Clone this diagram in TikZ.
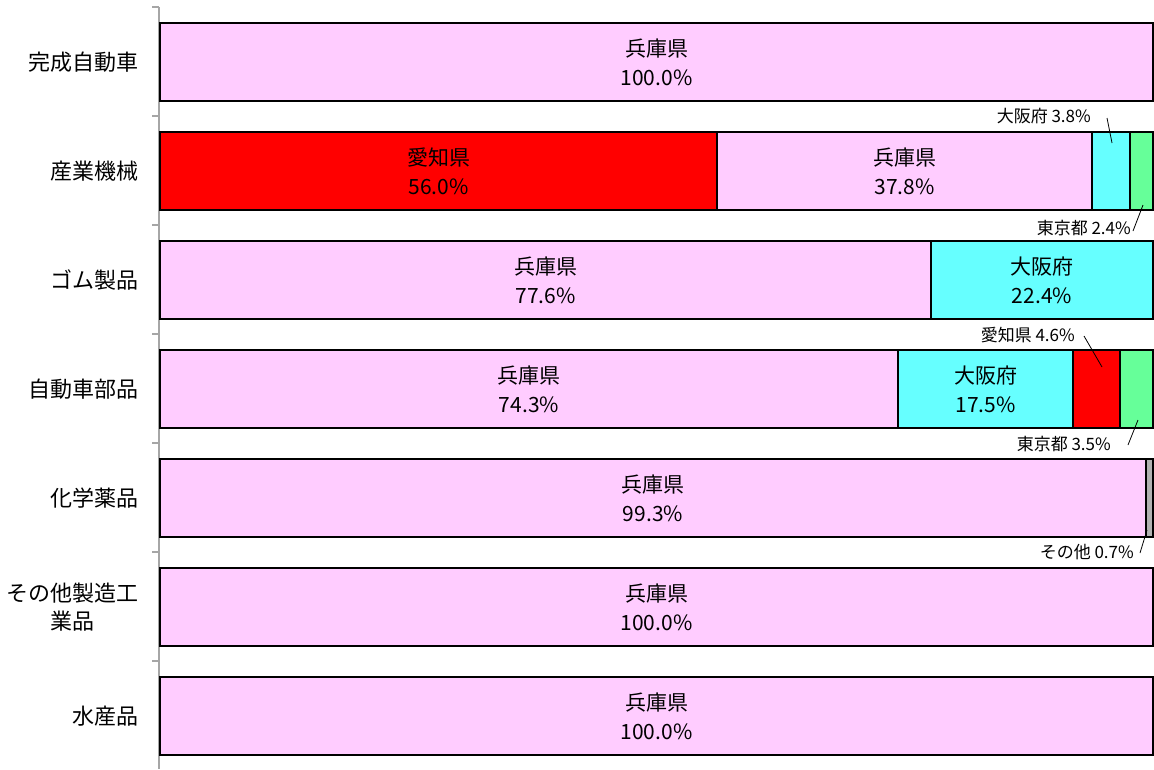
\documentclass[tikz,border=0pt]{standalone}
\usepackage{fontspec}
\setmainfont{Noto Sans CJK JP}
\definecolor{hyogo}{HTML}{FFCCFF}
\definecolor{aichi}{HTML}{FF0000}
\definecolor{osaka}{HTML}{66FFFF}
\definecolor{tokyo}{HTML}{66FF99}
\definecolor{other}{HTML}{B2B2B2}
\definecolor{axisgray}{HTML}{A6A6A6}
\begin{document}
\begin{tikzpicture}[x=1pt,y=-1pt,
  seg/.style={draw=black, line width=1.1pt, minimum height=78pt, inner sep=0pt, outer sep=0pt,
    anchor=north west, align=center, font=\fontsize{21}{29}\selectfont},
  cat/.style={anchor=east, align=center, inner sep=0pt, font=\fontsize{22}{28}\selectfont},
  call/.style={anchor=east, inner sep=0pt, font=\fontsize{17}{19}\selectfont},
  leader/.style={draw=black, line width=0.8pt}]
\useasboundingbox (0,0) rectangle (1154,769);
% axis
\draw[axisgray, line width=1.5pt] (159,7) -- (159,769);
\foreach \yy in {7,116,225,334,443,552,661} \draw[axisgray, line width=1.5pt] (152,\yy) -- (159,\yy);
% category labels
\node[cat] (c1) at (139,62) {完成自動車};
\node[cat] (c2) at (139,171) {産業機械};
\node[cat] (c3) at (139,280) {ゴム製品};
\node[cat] (c4) at (139,389) {自動車部品};
\node[cat] (c5) at (139,498) {化学薬品};
\node[cat] (c6) at (139,607) {その他製造工\\業品};
\node[cat] (c7) at (139,716) {水産品};
% bar 1
\node[seg, fill=hyogo, minimum width=993pt] (b1a) at (160,23) {兵庫県\\100.0\%};
% bar 2
\node[seg, fill=aichi, minimum width=557pt] (b2a) at (160,132) {愛知県\\56.0\%};
\node[seg, fill=hyogo, minimum width=375pt] (b2b) at (717,132) {兵庫県\\37.8\%};
\node[seg, fill=osaka, minimum width=38pt] (b2c) at (1092,132) {};
\node[seg, fill=tokyo, minimum width=23pt] (b2d) at (1130,132) {};
% bar 3
\node[seg, fill=hyogo, minimum width=771pt] (b3a) at (160,241) {兵庫県\\77.6\%};
\node[seg, fill=osaka, minimum width=222pt] (b3b) at (931,241) {大阪府\\22.4\%};
% bar 4
\node[seg, fill=hyogo, minimum width=738pt] (b4a) at (160,350) {兵庫県\\74.3\%};
\node[seg, fill=osaka, minimum width=175pt] (b4b) at (898,350) {大阪府\\17.5\%};
\node[seg, fill=aichi, minimum width=47pt] (b4c) at (1073,350) {};
\node[seg, fill=tokyo, minimum width=33pt] (b4d) at (1120,350) {};
% bar 5
\node[seg, fill=hyogo, minimum width=986pt] (b5a) at (160,459) {兵庫県\\99.3\%};
\node[seg, fill=other, minimum width=7pt] (b5b) at (1146,459) {};
% bar 6, 7
\node[seg, fill=hyogo, minimum width=993pt] (b6a) at (160,568) {兵庫県\\100.0\%};
\node[seg, fill=hyogo, minimum width=993pt] (b7a) at (160,677) {兵庫県\\100.0\%};
% callouts
\node[call] (l1) at (1091,116) {大阪府 3.8\%};
\node[call] (l2) at (1131,228) {東京都 2.4\%};
\node[call] (l3) at (1075,335) {愛知県 4.6\%};
\node[call] (l4) at (1111,444) {東京都 3.5\%};
\node[call] (l5) at (1134,552) {その他 0.7\%};
\coordinate (p1a) at (1107,118); \coordinate (p1b) at (1112,143);
\coordinate (p2a) at (1143,205); \coordinate (p2b) at (1133,231);
\coordinate (p3a) at (1084,336); \coordinate (p3b) at (1102,367);
\coordinate (p4a) at (1138,420); \coordinate (p4b) at (1128,445);
\coordinate (p5a) at (1147,530); \coordinate (p5b) at (1140,553);
\draw[leader] (p1a) -- (p1b);
\draw[leader] (p2a) -- (p2b);
\draw[leader] (p3a) -- (p3b);
\draw[leader] (p4a) -- (p4b);
\draw[leader] (p5a) -- (p5b);
\end{tikzpicture}
\end{document}
